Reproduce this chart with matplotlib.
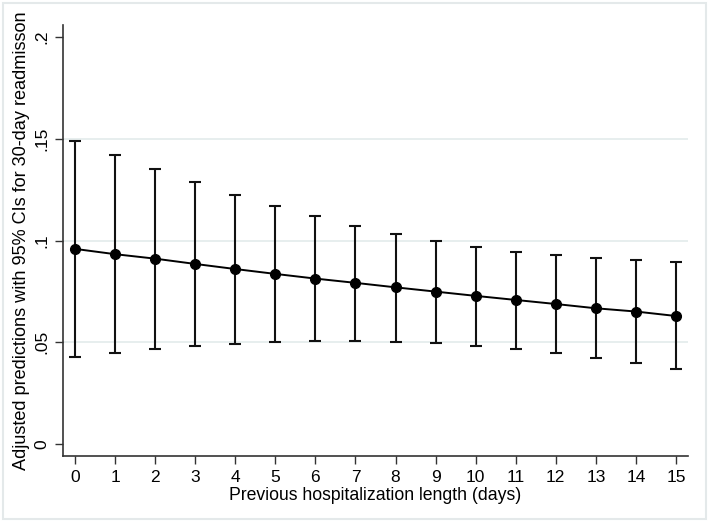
import numpy as np
import matplotlib
matplotlib.use('Agg')
import matplotlib.pyplot as plt
from matplotlib.patches import Rectangle

# data
days = list(range(16))
pred = [0.0959, 0.0933, 0.0911, 0.0885, 0.0860, 0.0836, 0.0813, 0.0792,
        0.0770, 0.0749, 0.0728, 0.0708, 0.0688, 0.0667, 0.0651, 0.0629]
ci_hi = [0.1491, 0.1421, 0.1350, 0.1286, 0.1226, 0.1170, 0.1119, 0.1073,
         0.1034, 0.0998, 0.0970, 0.0946, 0.0931, 0.0914, 0.0903, 0.0893]
ci_lo = [0.0426, 0.0449, 0.0467, 0.0482, 0.0493, 0.0503, 0.0506, 0.0506,
         0.0501, 0.0495, 0.0483, 0.0466, 0.0446, 0.0423, 0.0397, 0.0369]
yticks = [0, 0.05, 0.1, 0.15, 0.2]
ytick_labels = ['0', '.05', '.1', '.15', '.2']

plt.rcParams['font.family'] = ['Liberation Sans', 'DejaVu Sans']

fig = plt.figure(figsize=(7.09, 5.24), dpi=100)
ax = fig.add_axes([0.0889, 0.1303, 0.9704 - 0.0889, 0.9523 - 0.1303])

# outer graph-region frame
fig.patches.append(Rectangle((3 / 709, 5 / 524), 703 / 709, 516 / 524,
                             transform=fig.transFigure, fill=False,
                             edgecolor='#e4e9ea', linewidth=1.5))

for g in [0.05, 0.1, 0.15]:
    ax.axhline(g, color='#e3ebeb', linewidth=1.2, zorder=0)

pred = np.array(pred)
yerr = [pred - np.array(ci_lo), np.array(ci_hi) - pred]
ax.errorbar(days, pred, yerr=yerr, fmt='none', ecolor='#111111',
            elinewidth=1.5, capsize=4.5, capthick=1.5, zorder=2)
ax.plot(days, pred, '-o', color='black', linewidth=1.4, markersize=7, zorder=3)

ax.set_xlim(-0.3, 15.3)
ax.set_ylim(-0.0058, 0.206)
ax.set_xticks(days)
ax.set_yticks(yticks)
ax.set_yticklabels(ytick_labels, rotation=90, va='center')
ax.tick_params(axis='both', direction='out', length=6, width=1,
               color='#333333', labelsize=12.5, pad=4)

for s in ['top', 'right']:
    ax.spines[s].set_visible(False)
for s in ['left', 'bottom']:
    ax.spines[s].set_color('#333333')
    ax.spines[s].set_linewidth(1.2)

ax.set_xlabel('Previous hospitalization length (days)', fontsize=12.7, labelpad=2)
ax.set_ylabel('Adjusted predictions with 95% CIs for 30-day readmisson',
              fontsize=13.1, labelpad=3)

fig.savefig('out.png', dpi=100)
